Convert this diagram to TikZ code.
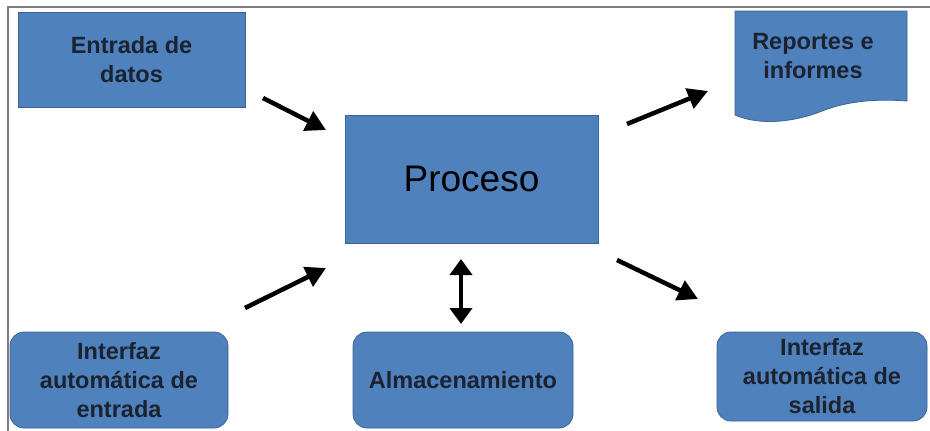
\documentclass[tikz,border=0pt]{standalone}
\usepackage{fontspec}
\setmainfont{Liberation Sans}
\usetikzlibrary{arrows.meta}
\definecolor{boxfill}{HTML}{4F81BD}
\definecolor{boxline}{HTML}{3B6496}
\definecolor{txt}{HTML}{1B2230}
\definecolor{frame}{HTML}{7F7F7F}
\tikzset{
  box/.style={draw=boxline, fill=boxfill, line width=0.8pt, inner sep=0pt,
    align=center, text=txt, font=\bfseries\fontsize{23.5}{29}\selectfont},
  roundbox/.style={box, rounded corners=14pt},
  bigarrow/.style={line width=4.5pt, -{Triangle[length=20pt,width=21pt]}},
  dblarrow/.style={line width=4.5pt, {Triangle[length=16pt,width=22pt]}-{Triangle[length=16pt,width=22pt]}},
}
\begin{document}
\begin{tikzpicture}[x=1pt,y=-1pt]
\useasboundingbox (0,0) rectangle (930,431);
\fill[white] (0,0) rectangle (930,431);
% frame
\draw[frame, line width=1.2pt] (8,431) -- (8,7) -- (930,7);

% boxes
\node[box, minimum width=227pt, minimum height=95pt] (entrada) at (131.5,59.5) {Entrada de\\datos};
\node[box, minimum width=253pt, minimum height=128pt, text=black, font=\fontsize{37}{40}\selectfont] (proceso) at (471.5,179) {Proceso};
\node[roundbox, minimum width=218pt, minimum height=96pt] (ientrada) at (119,380) {Interfaz\\automática de\\entrada};
\node[roundbox, minimum width=220pt, minimum height=96pt] (almacen) at (463,380) {Almacenamiento};
\node[roundbox, minimum width=210pt, minimum height=89pt] (isalida) at (822,376.5) {Interfaz\\automática de\\salida};

% document shape
\draw[boxline, fill=boxfill, line width=0.8pt]
  (735,11) -- (907,11) -- (907,101)
  .. controls (880,99) and (850,100) .. (822,111)
  .. controls (795,122) and (760,126) .. (735,115) -- cycle;
\node[text=txt, align=center, font=\bfseries\fontsize{23.5}{29}\selectfont, inner sep=0pt] (reportes) at (813,56.5) {Reportes e\\informes};

% arrow end points
\coordinate (a1s) at (263,98);
\coordinate (a1e) at (326,130);
\coordinate (a2s) at (245,308);
\coordinate (a2e) at (326,268);
\coordinate (a3s) at (627,124);
\coordinate (a3e) at (708,91);
\coordinate (a4s) at (617,260);
\coordinate (a4e) at (698,299);
\coordinate (a5s) at (461,259);
\coordinate (a5e) at (461,324);

\draw[bigarrow] (a1s) -- (a1e);
\draw[bigarrow] (a2s) -- (a2e);
\draw[bigarrow] (a3s) -- (a3e);
\draw[bigarrow] (a4s) -- (a4e);
\draw[dblarrow] (a5s) -- (a5e);
\end{tikzpicture}
\end{document}
